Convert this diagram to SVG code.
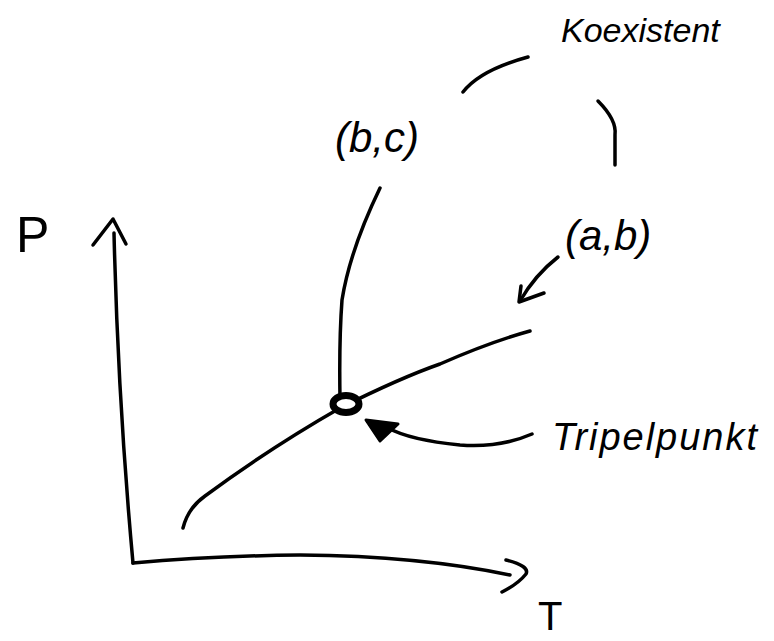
<svg xmlns="http://www.w3.org/2000/svg" width="774" height="641" viewBox="0 0 774 641">
<style>
.s{fill:none;stroke:#000;stroke-width:3.5;stroke-linecap:round;stroke-linejoin:round}
.t{font-family:"Liberation Sans","DejaVu Sans",sans-serif;fill:#000}
</style>
<rect width="774" height="641" fill="#fff"/>
<g id="axes">
<path class="s" d="M114,233 Q118,400 133,563"/>
<path class="s" d="M93,245 L113,219 L126,244"/>
<path class="s" d="M133,563 Q210,556 300,555 Q420,556 510,575"/>
<path class="s" d="M506,560 Q530,566 526,574 Q518,584 502,592"/>
</g>
<g id="labels">
<text class="t" x="16" y="252" font-size="50">P</text>
<text class="t" x="538" y="630" font-size="40">T</text>
<text class="t" x="335" y="152" font-size="42" font-style="italic">(b,c)</text>
<text class="t" x="565" y="250" font-size="42" font-style="italic">(a,b)</text>
<text class="t" x="561" y="42" font-size="34" font-style="italic">Koexistent</text>
<text class="t" x="552" y="450" font-size="38" font-style="italic" textLength="205">Tripelpunkt</text>
</g>
<g id="connectors">
<path class="s" d="M183,528 Q188,508 205,496 Q270,448 340,408 Q400,378 440,364 Q490,342 530,331"/>
<path class="s" d="M380,188 Q350,250 342,300 Q339,340 340,400"/>
<path class="s" d="M463,92 Q480,70 528,57"/>
<path class="s" d="M598,101 Q617,120 615,135 L615,165"/>
<path class="s" d="M558,257 Q535,275 520,301"/>
<path class="s" d="M521,286 L519,302 L544,293"/>
<path class="s" d="M532,434 Q500,448 460,445 Q410,440 388,428"/>
<path d="M366,420 L398,424 L380,441 Z" fill="#000" stroke="#000" stroke-width="3" stroke-linejoin="round"/>
</g>
<g id="triple">
<ellipse cx="346" cy="404" rx="13" ry="8.5" fill="#fff" stroke="#000" stroke-width="7"/>
</g>
</svg>
